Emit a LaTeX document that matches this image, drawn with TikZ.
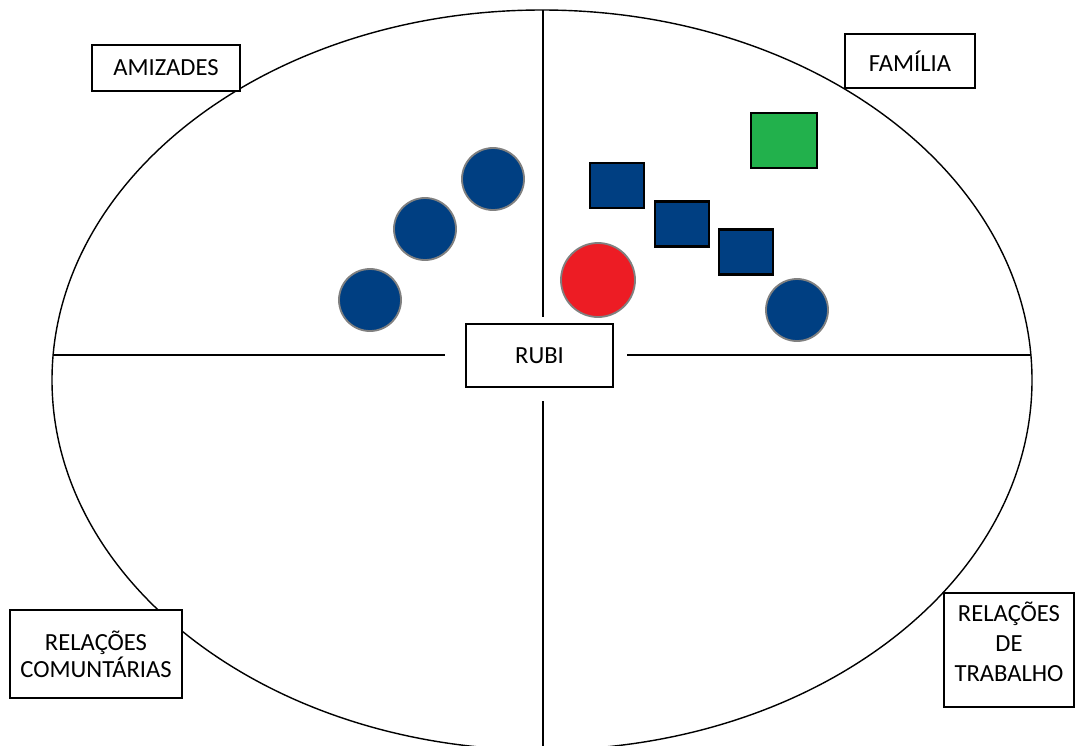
\documentclass[tikz,border=0pt]{standalone}
\usepackage{fontspec}
\setmainfont{Carlito}
\definecolor{navy}{RGB}{0,63,130}
\definecolor{ruby}{RGB}{237,28,36}
\definecolor{leaf}{RGB}{34,177,76}
\definecolor{rim}{RGB}{128,128,128}

\begin{document}
\begin{tikzpicture}[x=0.025cm, y=-0.025cm, line width=1pt, font=\fontsize{17.5}{20}\selectfont,
	box/.style={draw, fill=white, line width=1.2pt, align=center, inner sep=0pt},
	ball/.style={circle, draw=rim, line width=1.3pt, fill=navy, minimum size=1.55cm, inner sep=0pt},
	block/.style={rectangle, draw, line width=1.5pt, fill=navy, minimum width=1.35cm, minimum height=1.125cm, inner sep=0pt}]
	\useasboundingbox (0,0) rectangle (1076,745);
	% the four sectors
	\draw (542,380) ellipse [x radius=490, y radius=370];
	\draw (543,10) -- (543,317);
	\draw (543,401) -- (543,760);
	\draw (53,355) -- (445,355);
	\draw (627,355) -- (1031,355);
	\node[box, minimum width=3.675cm, minimum height=1.575cm] (rubi) at (539.5,355.5) {RUBI};
	% labels of the sectors
	\node[box, minimum width=3.7cm, minimum height=1.15cm] (amizades) at (166,68) {AMIZADES};
	\node[box, minimum width=3.25cm, minimum height=1.35cm] (familia) at (910,61) {FAMÍLIA};
	\node[box, minimum width=4.3cm, minimum height=2.2cm, font=\fontsize{17.5}{19}\selectfont] (comunidade) at (96,654) {RELAÇÕES\\COMUNTÁRIAS};
	\node[box, minimum width=3.25cm, minimum height=2.85cm, text depth=0.4cm, font=\fontsize{17.5}{21.3}\selectfont] (trabalho) at (1009,650) {RELAÇÕES\\DE\\TRABALHO};
	% people around
	\node[ball] (amigo1) at (493,179) {};
	\node[ball] (amigo2) at (425,229) {};
	\node[ball] (amigo3) at (370,300) {};
	\node[ball] (parente4) at (797,310) {};
	\node[ball, fill=ruby, minimum size=1.85cm] (ego) at (598,280) {};
	\node[block] (parente1) at (617,185.5) {};
	\node[block] (parente2) at (682,224) {};
	\node[block] (parente3) at (746,252) {};
	\node[block, fill=leaf, minimum width=1.65cm, minimum height=1.375cm] (parente5) at (784,140.5) {};
\end{tikzpicture}
\end{document}
